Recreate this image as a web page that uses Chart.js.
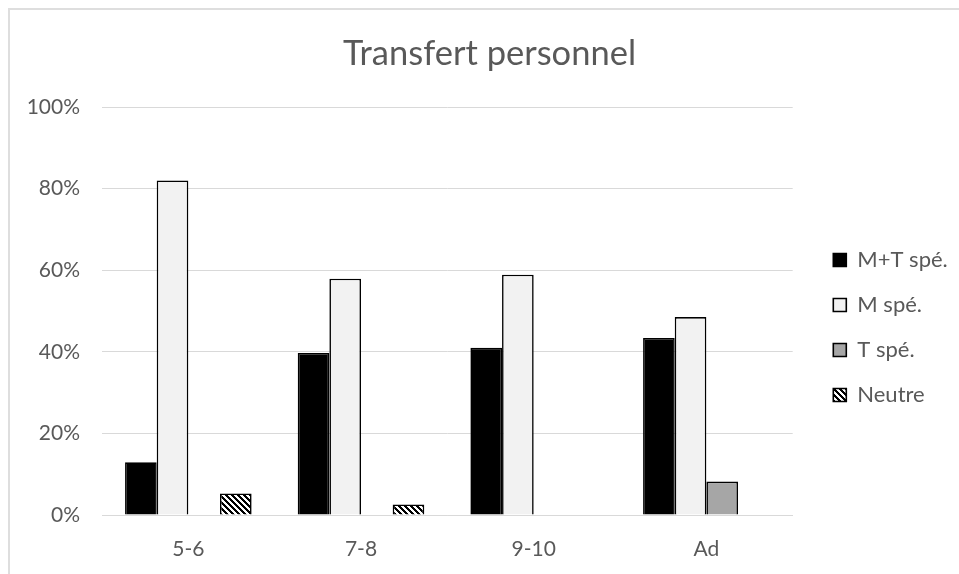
<!DOCTYPE html>
<html><head><meta charset="utf-8">
<script src="https://cdn.jsdelivr.net/npm/chart.js@4.4.1/dist/chart.umd.min.js"></script>
<style>
html,body{margin:0;padding:0;background:#fff;overflow:hidden}
#wrap{position:relative;width:959px;height:574px}
#frame{position:absolute;left:8px;top:8px;width:1000px;height:1000px;border-left:2px solid #dedede;border-top:2px solid #dedede;box-sizing:border-box}
canvas{position:absolute;left:0;top:0}
</style></head><body>
<div id="wrap"><div id="frame"></div><canvas id="c" width="959" height="574"></canvas></div>
<script>
// ---- data ----
const categories = ['5-6', '7-8', '9-10', 'Ad'];
const seriesNames = ['M+T spé.', 'M spé.', 'T spé.', 'Neutre'];
const mtSpe  = [12.9, 39.7, 41.0, 43.4];
const mSpe   = [82.0, 57.9, 58.9, 48.5];
const tSpe   = [0, 0, 0, 8.2];
const neutre = [5.3, 2.6, 0, 0];
const yTickMin = 0, yTickMax = 100, yTickStep = 20;
const titleText = 'Transfert personnel';

// ---- layout constants ----
const TEXT = '#595959';
const GRID = '#d9d9d9';
const LFONT = 22;
const TFONT = 21;
const PAD = 23, BOXW = 13;
const PLOT_L = 102, PLOT_R = 792.7, PLOT_B = 515, BOX_X = 833.3;

const canvas = document.getElementById('c');
const ctx = canvas.getContext('2d');

const mctx = document.createElement('canvas').getContext('2d');
mctx.font = 'normal ' + LFONT + 'px Lato';
let maxT = 0;
seriesNames.forEach(s => { maxT = Math.max(maxT, mctx.measureText(s).width); });
const legendW = PAD + BOXW + LFONT / 2 + maxT + 10;
const gapW = BOX_X - PAD - PLOT_R;
const R = Math.max(0, 959 - PLOT_R - gapW - legendW);
const PL = R + 20;

function hatch() {
  const c = document.createElement('canvas');
  c.width = c.height = 6;
  const g = c.getContext('2d');
  g.fillStyle = '#fff'; g.fillRect(0, 0, 6, 6);
  g.fillStyle = '#000';
  for (let y = 0; y < 6; y++) for (let x = 0; x < 6; x++) {
    if ((((x - y) % 6) + 6) % 6 < 3) g.fillRect(x, y, 1, 1);
  }
  return ctx.createPattern(c, 'repeat');
}

Chart.defaults.font.family = 'Lato';
Chart.defaults.color = TEXT;

new Chart(ctx, {
  type: 'bar',
  data: {
    labels: categories,
    datasets: [
      { label: seriesNames[0], data: mtSpe, backgroundColor: '#000000', borderColor: '#000000', borderWidth: 1.6 },
      { label: seriesNames[1], data: mSpe, backgroundColor: '#f2f2f2', borderColor: '#000000', borderWidth: 1.6 },
      { label: seriesNames[2], data: tSpe, backgroundColor: '#a6a6a6', borderColor: '#000000', borderWidth: 1.6 },
      { label: seriesNames[3], data: neutre, backgroundColor: hatch(), borderColor: '#000000', borderWidth: 1.6 }
    ]
  },
  options: {
    responsive: false,
    animation: false,
    devicePixelRatio: 1,
    layout: { padding: { left: PL, right: R, top: 0, bottom: 0 } },
    datasets: { bar: { categoryPercentage: 0.733, barPercentage: 1.0 } },
    plugins: {
      tooltip: { enabled: false },
      title: {
        display: true, text: titleText, color: TEXT,
        font: { size: 34.5, weight: 'normal', lineHeight: 1.2 },
        padding: { top: 33.5, bottom: 32.1 }
      },
      legend: {
        position: 'right', align: 'center',
        title: { display: true, text: ' ', font: { size: 10, lineHeight: 1.2 }, padding: { top: 69, bottom: 0 } },
        labels: { boxWidth: BOXW, boxHeight: BOXW, padding: PAD, color: TEXT, font: { size: LFONT } }
      }
    },
    scales: {
      x: {
        grid: { display: false },
        border: { display: true, color: GRID, width: 1 },
        ticks: { color: TEXT, font: { size: TFONT }, padding: 14 },
        afterFit: s => { s.height = 574 - PLOT_B; }
      },
      y: {
        min: yTickMin, max: yTickMax,
        ticks: { stepSize: yTickStep, color: TEXT, font: { size: TFONT }, padding: 22, callback: v => v + '%' },
        grid: { color: GRID, lineWidth: 1, drawTicks: false },
        border: { display: false },
        afterFit: s => { s.width = PLOT_L - PL; }
      },
      gap: {
        type: 'linear', position: 'right', display: true,
        grid: { display: false }, ticks: { display: false }, border: { display: false },
        afterFit: s => { s.width = gapW; }
      }
    }
  }
});
</script>
</body></html>
